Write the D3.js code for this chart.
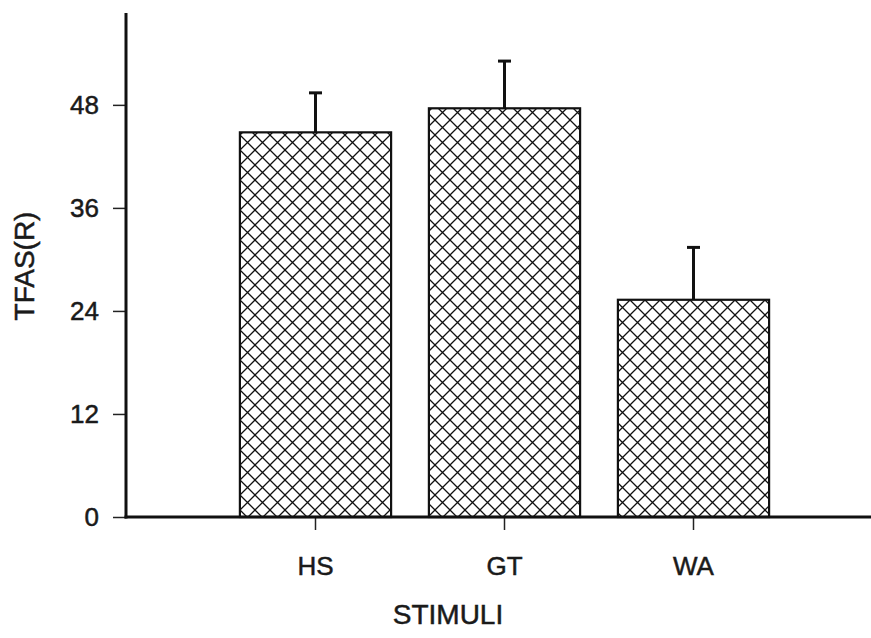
<!DOCTYPE html>
<html><head><meta charset="utf-8">
<script src="https://cdn.jsdelivr.net/npm/d3@7"></script>
<style>html,body{margin:0;padding:0;background:#fff;}svg{display:block;}</style>
</head><body>
<script>
const categories = ["HS", "GT", "WA"];
const means = [44.8, 47.6, 25.3];
const errUpper = [49.4, 53.1, 31.4];
const yTicks = [0, 12, 24, 36, 48];
const yMax = 58.7;
const xTitle = "STIMULI";
const yTitle = "TFAS(R)";

const W = 871, H = 638;
const svg = d3.select("body").append("svg").attr("width", W).attr("height", H);
const defs = svg.append("defs");
const pat = defs.append("pattern").attr("id", "xhatch").attr("patternUnits", "userSpaceOnUse")
  .attr("width", 15).attr("height", 15).attr("x", 240).attr("y", 0);
pat.append("path").attr("d", "M0,0L15,15M15,0L0,15M-1,14L1,16M14,-1L16,1M-1,1L1,-1M14,16L16,14")
  .attr("stroke", "#111").attr("stroke-width", 1.3).attr("fill", "none");

const x0 = 126, xEnd = 871, yBase = 517;
const y = d3.scaleLinear().domain([0, yMax]).range([yBase, 13]);
const x = d3.scaleBand().domain(categories).range([221, 788]).paddingInner(0.2).paddingOuter(0.1);

const font = "'Liberation Sans', Arial, Helvetica, sans-serif";
const styleText = sel => sel.attr("font-family", font).attr("fill", "#1a1a1a")
  .attr("stroke", "#1a1a1a").attr("stroke-width", 0.5);

// bars
svg.selectAll("rect.bar").data(categories).enter().append("rect")
  .attr("class", "bar")
  .attr("x", d => x(d)).attr("width", x.bandwidth())
  .attr("y", (d, i) => y(means[i])).attr("height", (d, i) => y(0) - y(means[i]))
  .attr("fill", "url(#xhatch)").attr("stroke", "#111").attr("stroke-width", 2.2);

// error bars
const eg = svg.selectAll("g.err").data(categories).enter().append("g").attr("class", "err");
eg.append("line")
  .attr("x1", d => x(d) + x.bandwidth() / 2).attr("x2", d => x(d) + x.bandwidth() / 2)
  .attr("y1", (d, i) => y(means[i])).attr("y2", (d, i) => y(errUpper[i]))
  .attr("stroke", "#111").attr("stroke-width", 3);
eg.append("line")
  .attr("x1", d => x(d) + x.bandwidth() / 2 - 6.5).attr("x2", d => x(d) + x.bandwidth() / 2 + 6.5)
  .attr("y1", (d, i) => y(errUpper[i])).attr("y2", (d, i) => y(errUpper[i]))
  .attr("stroke", "#111").attr("stroke-width", 3);

// y axis
const yAxis = d3.axisLeft(y).tickValues(yTicks).tickSize(13).tickPadding(14).tickFormat(d3.format("d"));
const gy = svg.append("g").attr("transform", `translate(${x0},0)`).call(yAxis);
gy.select(".domain").remove();
gy.selectAll(".tick line").attr("stroke", "#222").attr("stroke-width", 1.5);
gy.selectAll(".tick text").call(styleText).attr("font-size", 26);
svg.append("line").attr("x1", x0).attr("x2", x0).attr("y1", y(yMax)).attr("y2", yBase + 1.5)
  .attr("stroke", "#111").attr("stroke-width", 3);

// x axis
const xAxis = d3.axisBottom(x).tickSize(13).tickPadding(27);
const gx = svg.append("g").attr("transform", `translate(0,${yBase})`).call(xAxis);
gx.select(".domain").remove();
gx.selectAll(".tick line").attr("stroke", "#222").attr("stroke-width", 1.5);
gx.selectAll(".tick text").call(styleText).attr("font-size", 26);
svg.append("line").attr("x1", x0 - 1.5).attr("x2", xEnd).attr("y1", yBase).attr("y2", yBase)
  .attr("stroke", "#111").attr("stroke-width", 3);

// titles
svg.append("text").attr("x", 448).attr("y", 624).attr("text-anchor", "middle")
  .call(styleText).attr("font-size", 28).text(xTitle);
svg.append("text").attr("transform", "translate(34,266) rotate(-90)").attr("text-anchor", "middle")
  .call(styleText).attr("font-size", 28).text(yTitle);
</script>
</body></html>
